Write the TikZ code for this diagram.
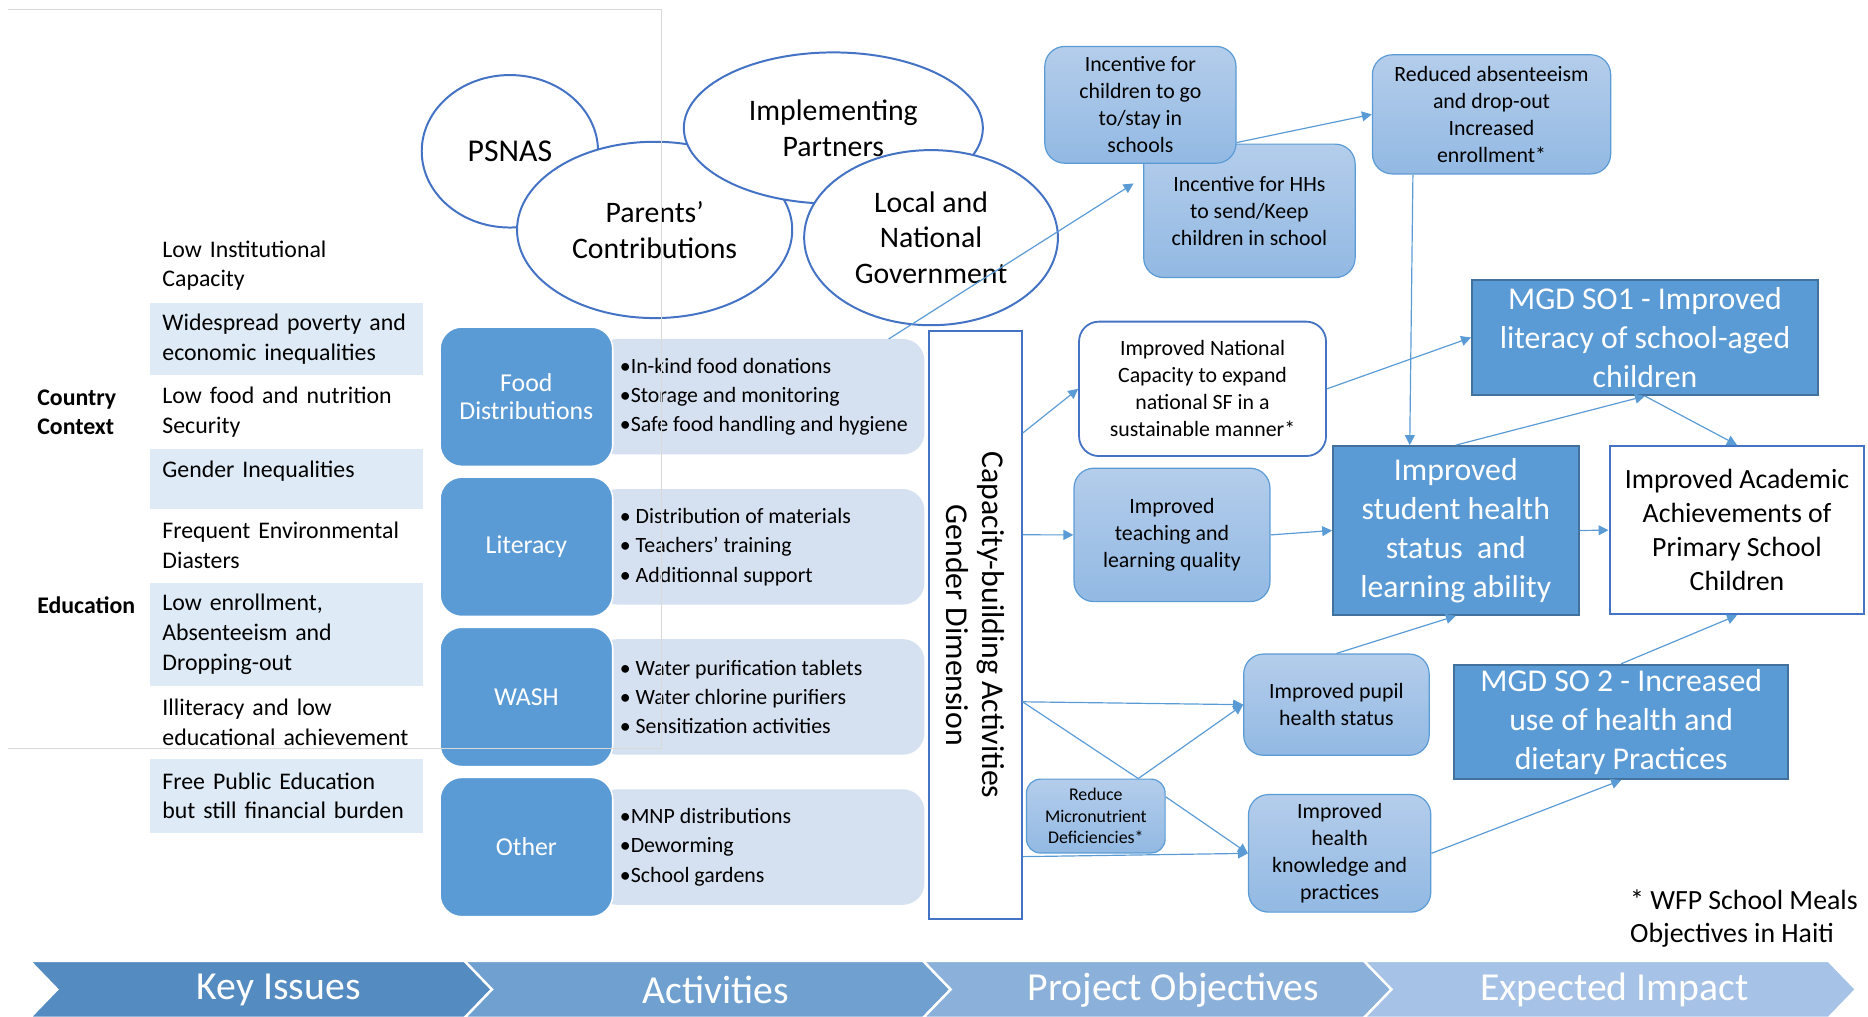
\documentclass[tikz,border=0pt]{standalone}
\usepackage{fontspec}
\setmainfont{Carlito}
\usepackage{tikz}
\usetikzlibrary{positioning, shapes.geometric, arrows.meta, calc}

\definecolor{WFPBlue}{RGB}{91,155,213}
\definecolor{WFPDeep}{RGB}{65,113,156}
\definecolor{WFPEdge}{RGB}{68,114,196}
\definecolor{WFPBand}{RGB}{222,235,247}
\definecolor{WFPList}{RGB}{213,224,240}
\definecolor{WFPTop}{RGB}{180,205,235}
\definecolor{WFPBottom}{RGB}{146,185,227}
\definecolor{WFPFrame}{RGB}{217,217,217}
\definecolor{StageOne}{RGB}{84,140,194}
\definecolor{StageTwo}{RGB}{111,160,208}
\definecolor{StageThree}{RGB}{139,176,218}
\definecolor{StageFour}{RGB}{166,194,230}

\begin{document}
\begin{tikzpicture}[x=0.6pt, y=-0.6pt,
  issue/.style={rectangle, minimum width=137.4pt, text width=125pt, inner xsep=6.2pt, inner ysep=0pt, outer sep=0pt, align=left, font=\fontsize{12}{15}\selectfont},
  shaded/.style={fill=WFPBand},
  side/.style={align=left, inner sep=0pt, font=\bfseries\fontsize{12}{15}\selectfont},
  partner/.style={ellipse, draw=WFPEdge, line width=1pt, fill=white, inner sep=0pt, align=center, font=\fontsize{15}{18}\selectfont},
  actbox/.style={rectangle, rounded corners=11pt, fill=WFPBlue, draw=white, line width=0.8pt, minimum width=87pt, minimum height=70.2pt, text=white, align=center, font=\fontsize{13}{14.5}\selectfont},
  listbox/.style={rectangle, rounded corners=11pt, fill=WFPList, minimum width=165.6pt, minimum height=58.2pt, outer sep=0pt},
  bullets/.style={align=left, inner sep=0pt, font=\fontsize{11}{14.8}\selectfont},
  capbox/.style={rectangle, draw=WFPEdge, line width=1pt, fill=white, minimum width=46.5pt, minimum height=296pt},
  captext/.style={align=center, inner sep=0pt, font=\fontsize{16}{17.7}\selectfont},
  objbox/.style={rectangle, rounded corners=10pt, top color=WFPTop, bottom color=WFPBottom, draw=WFPBlue, line width=0.6pt, align=center, inner sep=2pt, font=\fontsize{11}{13.6}\selectfont},
  plainobj/.style={rectangle, rounded corners=10pt, fill=white, draw=WFPEdge, line width=0.9pt, align=center, inner sep=2pt, font=\fontsize{11}{13.6}\selectfont},
  goalbox/.style={rectangle, fill=WFPBlue, draw=WFPDeep, line width=1pt, text=white, align=center, inner sep=2pt, font=\fontsize{16}{19.6}\selectfont},
  impact/.style={rectangle, fill=white, draw=WFPEdge, line width=1pt, align=center, inner sep=2pt, font=\fontsize{14}{17.1}\selectfont},
  stage/.style={text=white, font=\fontsize{20}{24}\selectfont},
  note/.style={align=left, inner sep=0pt, font=\fontsize{14}{16.8}\selectfont},
  arrow/.style={-{Triangle[length=5pt, width=5pt]}, line width=0.6pt, WFPBlue},
  link/.style={line width=0.6pt, WFPBlue}
]
\useasboundingbox (0,0) rectangle (1568,853);

% Key issues column
\node[issue, anchor=north west, minimum height=37.2pt] (lowinst) at (126,192) {Low Institutional\\Capacity};
\node[issue, shaded, below=0pt of lowinst, minimum height=36.6pt] (poverty) {Widespread poverty and\\economic inequalities};
\node[issue, below=0pt of poverty, minimum height=37.2pt] (nutrition) {Low food and nutrition\\Security};
\node[issue, shaded, below=0pt of nutrition, minimum height=30pt, text height=14.4pt, text depth=15.6pt] (gender) {Gender Inequalities};
\node[issue, below=0pt of gender, minimum height=37.2pt] (disaster) {Frequent Environmental\\Diasters};
\node[issue, shaded, below=0pt of disaster, minimum height=52.2pt] (enroll) {Low enrollment,\\Absenteeism and\\Dropping-out};
\node[issue, below=0pt of enroll, minimum height=36.6pt] (illiteracy) {Illiteracy and low\\educational achievement};
\node[issue, shaded, below=0pt of illiteracy, minimum height=37.2pt] (burden) {Free Public Education\\but still financial burden};

\node[side, anchor=west] (country) at (31,346) {Country\\Context};
\node[side, anchor=west] (education) at (31,508) {Education};

% Partners
\node[partner, minimum width=88.8pt, minimum height=76.8pt, font=\fontsize{16}{18}\selectfont] (psnas) at (428,127) {PSNAS};
\node[partner, minimum width=138.6pt, minimum height=88.8pt] (parents) at (549.5,193) {Parents’\\Contributions};
\node[partner, minimum width=150.6pt, minimum height=76.2pt] (partners) at (699.5,107.5) {Implementing\\Partners};
\node[partner, minimum width=127.8pt, minimum height=88.2pt] (govt) at (781.5,199.5) {Local and\\National\\Government};

% Activities
\node[listbox, anchor=east] (foodlist) at (776,333) {};
\node[actbox, left=-9pt of foodlist] (food) {Food\\Distributions};
\node[bullets, anchor=west] (foodpts) at ([xshift=3pt]food.east) {•In-kind food donations\\•Storage and monitoring\\•Safe food handling and hygiene};

\node[listbox, below=17.4pt of foodlist] (litlist) {};
\node[actbox, left=-9pt of litlist] (literacy) {Literacy};
\node[bullets, anchor=west] (litpts) at ([xshift=3pt]literacy.east) {• Distribution of materials\\• Teachers’ training\\• Additionnal support};

\node[listbox, below=17.4pt of litlist] (washlist) {};
\node[actbox, left=-9pt of washlist] (wash) {WASH};
\node[bullets, anchor=west] (washpts) at ([xshift=3pt]wash.east) {• Water purification tablets\\• Water chlorine purifiers\\• Sensitization activities};

\node[listbox, below=17.4pt of washlist] (otherlist) {};
\node[actbox, left=-9pt of otherlist] (other) {Other};
\node[bullets, anchor=west] (otherpts) at ([xshift=3pt]other.east) {•MNP distributions\\•Deworming\\•School gardens};

\node[capbox] (cap) at (818.75,524.75) {};
\node[captext, rotate=-90] (capnote) at (cap.center) {Capacity-building Activities\\Gender Dimension};

% Project objectives
\node[objbox, minimum width=106.5pt, minimum height=67.2pt] (hhs) at (1048.75,177) {Incentive for HHs\\to send/Keep\\children in school};
\node[objbox, minimum width=96.3pt, minimum height=58.8pt] (kids) at (957.25,88) {Incentive for\\children to go\\to/stay in\\schools};
\node[objbox, minimum width=120pt, minimum height=60pt] (reduced) at (1252,96) {Reduced absenteeism\\and drop-out\\Increased\\enrollment*};
\node[plainobj, minimum width=124.4pt, minimum height=67.7pt] (natcap) at (1009.4,326.4) {Improved National\\Capacity to expand\\national SF in a\\sustainable manner*};
\node[objbox, minimum width=98.7pt, minimum height=67.2pt] (teach) at (983.75,449) {Improved\\teaching and\\learning quality};
\node[objbox, minimum width=93.4pt, minimum height=51pt] (pupil) at (1121.8,591.5) {Improved pupil\\health status};
\node[objbox, rounded corners=7pt, minimum width=69.8pt, minimum height=37.2pt, font=\fontsize{9}{10.8}\selectfont] (micro) at (919.8,685) {Reduce\\Micronutrient\\Deficiencies*};
\node[objbox, minimum width=91.8pt, minimum height=59.2pt] (knowl) at (1124.5,716.3) {Improved\\health\\knowledge and\\practices};

% Expected impact
\node[goalbox, minimum width=174.2pt, minimum height=58pt] (so1) at (1380.8,283.3) {MGD SO1 - Improved\\literacy of school-aged\\children};
\node[goalbox, minimum width=123.6pt, minimum height=85pt] (student) at (1222,445.3) {Improved\\student health\\status\ \ and\\learning ability};
\node[goalbox, minimum width=168.2pt, minimum height=57.6pt] (so2) at (1360.8,606) {MGD SO 2 - Increased\\use of health and\\dietary Practices};
\node[impact, minimum width=128.4pt, minimum height=84.8pt] (academic) at (1458,445) {Improved Academic\\Achievements of\\Primary School\\Children};

\node[note, anchor=west] (footnote) at (1368,771) {* WFP School Meals\\Objectives in Haiti};

% Arrows
\coordinate (capA) at ([yshift=96.7pt]cap.east);
\coordinate (capB) at ([yshift=45.5pt]cap.east);
\coordinate (capC) at ([yshift=-38.6pt]cap.east);
\coordinate (capD) at ([yshift=-116.6pt]cap.east);
\coordinate (microtop) at ([xshift=21.4pt]micro.north);

\draw[arrow] ([xshift=-18pt]foodlist.north east) -- ([xshift=-4.8pt, yshift=13.8pt]hhs.west);
\draw[arrow] ([yshift=-19pt]kids.east) -- (reduced.west);
\draw[arrow] ([xshift=-39.6pt]reduced.south) -- ([xshift=-23.2pt]student.north);
\draw[arrow] (capA) -- (natcap.west);
\draw[arrow] (natcap.east) -- (so1.west);
\draw[arrow] (student.north) -- (so1.south);
\draw[arrow] (so1.south) -- (academic.north);
\draw[arrow] (capB) -- (teach.west);
\draw[arrow] (teach.east) -- (student.west);
\draw[arrow] (student.east) -- (academic.west);
\draw[arrow] (pupil.north) -- (student.south);
\draw[arrow] (so2.north) -- (academic.south);
\draw[arrow] (capC) -- (pupil.west);
\draw[link] (capC) -- (microtop);
\draw[arrow] (microtop) -- (pupil.west);
\draw[arrow] ([yshift=9.7pt]micro.east) -- (knowl.west);
\draw[arrow] (capD) -- (knowl.west);
\draw[arrow] (knowl.east) -- (so2.south);

% Stage banner
\fill[StageOne, draw=white, line width=1.2pt] (25,806.7) -- (390,806.7) -- (413,830.5) -- (390,854.3) -- (25,854.3) -- (48,830.5) -- cycle;
\fill[StageTwo, draw=white, line width=1.2pt] (390,806.7) -- (775,806.7) -- (798,830.5) -- (775,854.3) -- (390,854.3) -- (413,830.5) -- cycle;
\fill[StageThree, draw=white, line width=1.2pt] (775,806.7) -- (1145,806.7) -- (1168,830.5) -- (1145,854.3) -- (775,854.3) -- (798,830.5) -- cycle;
\fill[StageFour, draw=white, line width=1.2pt] (1145,806.7) -- (1535,806.7) -- (1558,830.5) -- (1535,854.3) -- (1145,854.3) -- (1168,830.5) -- cycle;
\node[stage] (keyissues) at (234,831) {Key Issues};
\node[stage] (activities) at (601,831) {Activities};
\node[stage] (objectives) at (985,831) {Project Objectives};
\node[stage] (impact) at (1355,831) {Expected Impact};

% slide frame
\draw[WFPFrame, line width=0.5pt] (7,8) -- (555,8) -- (555,628) -- (7,628);

\end{tikzpicture}
\end{document}
